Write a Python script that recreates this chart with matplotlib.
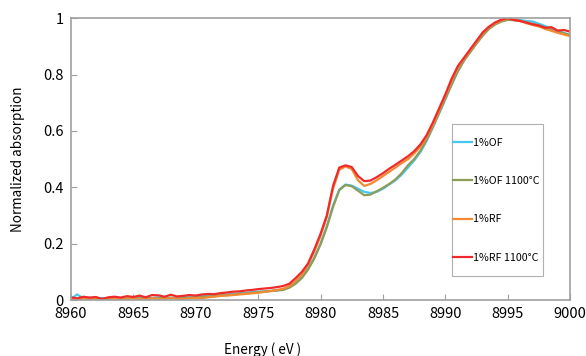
import numpy as np
import matplotlib
matplotlib.use('Agg')
import matplotlib.pyplot as plt
from matplotlib.patches import Rectangle

plt.rcParams['font.family'] = ['Noto Sans CJK JP', 'DejaVu Sans']

# energy grid (eV), 0.5 eV steps
energy = [8960 + 0.5 * i for i in range(81)]

of_1 = [0.004, 0.020, 0.006, 0.008, 0.005, 0.007, 0.004, 0.006, 0.008, 0.005,
        0.007, 0.009, 0.006, 0.008, 0.010, 0.007, 0.009, 0.008, 0.011, 0.010,
        0.012, 0.014, 0.015, 0.017, 0.019, 0.020, 0.022, 0.024, 0.026, 0.028,
        0.030, 0.031, 0.033, 0.035, 0.038, 0.046, 0.060, 0.082, 0.112, 0.150,
        0.200, 0.262, 0.335, 0.392, 0.410, 0.406, 0.395, 0.384, 0.380, 0.384,
        0.395, 0.410, 0.425, 0.445, 0.470, 0.495, 0.525, 0.565, 0.612, 0.662,
        0.712, 0.764, 0.812, 0.850, 0.882, 0.912, 0.940, 0.964, 0.980, 0.990,
        0.995, 0.996, 0.993, 0.990, 0.988, 0.980, 0.972, 0.962, 0.955, 0.948,
        0.940]

of_1100 = [0.006, 0.004, 0.007, 0.005, 0.006, 0.004, 0.005, 0.007, 0.006, 0.004,
           0.008, 0.006, 0.005, 0.007, 0.006, 0.008, 0.007, 0.006, 0.009, 0.008,
           0.010, 0.011, 0.013, 0.015, 0.017, 0.018, 0.020, 0.022, 0.024, 0.026,
           0.028, 0.030, 0.032, 0.034, 0.036, 0.044, 0.058, 0.078, 0.108, 0.148,
           0.198, 0.258, 0.330, 0.390, 0.408, 0.404, 0.388, 0.372, 0.374, 0.386,
           0.398, 0.412, 0.428, 0.450, 0.478, 0.500, 0.530, 0.568, 0.615, 0.665,
           0.715, 0.765, 0.812, 0.850, 0.880, 0.910, 0.938, 0.962, 0.978, 0.988,
           0.994, 0.993, 0.990, 0.985, 0.980, 0.974, 0.966, 0.958, 0.952, 0.946,
           0.940]

rf_1 = [0.004, 0.002, 0.005, 0.003, 0.004, 0.002, 0.006, 0.004, 0.003, 0.005,
        0.006, 0.004, 0.003, 0.006, 0.005, 0.004, 0.007, 0.005, 0.004, 0.006,
        0.008, 0.007, 0.010, 0.012, 0.015, 0.016, 0.018, 0.020, 0.022, 0.024,
        0.026, 0.029, 0.032, 0.036, 0.040, 0.050, 0.068, 0.090, 0.125, 0.172,
        0.228, 0.295, 0.395, 0.462, 0.474, 0.465, 0.425, 0.405, 0.412, 0.425,
        0.440, 0.455, 0.470, 0.486, 0.500, 0.520, 0.545, 0.578, 0.622, 0.672,
        0.724, 0.778, 0.824, 0.856, 0.886, 0.916, 0.946, 0.968, 0.982, 0.992,
        0.998, 0.995, 0.990, 0.982, 0.976, 0.970, 0.962, 0.955, 0.948, 0.942,
        0.936]

rf_1100 = [0.010, 0.006, 0.012, 0.009, 0.011, 0.004, 0.010, 0.012, 0.009, 0.014,
           0.011, 0.016, 0.010, 0.018, 0.017, 0.012, 0.019, 0.013, 0.015, 0.018,
           0.016, 0.020, 0.022, 0.021, 0.025, 0.027, 0.030, 0.031, 0.034, 0.036,
           0.039, 0.041, 0.043, 0.046, 0.050, 0.058, 0.078, 0.100, 0.130, 0.180,
           0.235, 0.300, 0.405, 0.470, 0.478, 0.472, 0.440, 0.422, 0.424, 0.436,
           0.450, 0.466, 0.480, 0.495, 0.510, 0.528, 0.552, 0.585, 0.630, 0.680,
           0.730, 0.785, 0.830, 0.860, 0.890, 0.920, 0.950, 0.970, 0.985, 0.995,
           1.000, 0.993, 0.990, 0.984, 0.978, 0.974, 0.966, 0.968, 0.956, 0.958,
           0.952]

labels = ['1%OF', '1%OF 1100°C', '1%RF', '1%RF 1100°C']
colors = ['#45C8EE', '#8C9C5A', '#F28A32', '#F02A2A']
series = [of_1, of_1100, rf_1, rf_1100]

fig = plt.figure(figsize=(5.86, 3.56), dpi=100)
ax = fig.add_subplot(111)
fig.subplots_adjust(left=0.121, right=0.973, top=0.949, bottom=0.157)

for y, lab, c in zip(series, labels, colors):
    ax.plot(energy, y, color=c, lw=1.6, label=lab)

ax.set_xlim(8960, 9000)
ax.set_ylim(0, 1)
ax.set_xticks(range(8960, 9001, 5))
ax.set_yticks([0, 0.2, 0.4, 0.6, 0.8, 1])
ax.set_yticklabels(['0', '0.2', '0.4', '0.6', '0.8', '1'])
ax.tick_params(direction='in', length=4, color='#a0a0a0', labelsize=10.5, pad=5)
for sp in ax.spines.values():
    sp.set_color('#a0a0a0')
    sp.set_linewidth(1.2)

ax.set_ylabel('Normalized absorption', fontsize=9.7)
ax.set_xlabel('Energy ( eV )', fontsize=9.7)
ax.xaxis.set_label_coords(0.383, -0.15)
ax.yaxis.set_label_coords(-0.091, 0.5)

# legend box drawn separately (tall and narrow like the original)
box = Rectangle((0.763, 0.085), 0.183, 0.539, transform=ax.transAxes,
                facecolor='white', edgecolor='#b0b0b0', lw=0.8, zorder=4.9)
ax.add_patch(box)
leg = ax.legend(loc='center left', bbox_to_anchor=(0.763, 0.3545), fontsize=7.7,
                labelspacing=2.65, handlelength=1.7, handletextpad=0.1,
                borderpad=0.15, borderaxespad=0, frameon=False)

fig.savefig('out.png', dpi=100)
